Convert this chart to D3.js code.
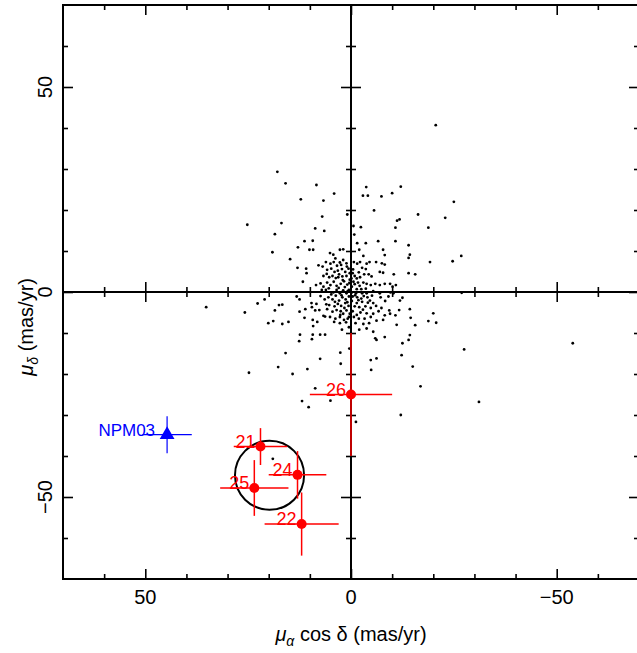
<!DOCTYPE html>
<html><head><meta charset="utf-8">
<script src="https://cdn.jsdelivr.net/npm/d3@7"></script>
<style>
html,body{margin:0;padding:0;background:#fff;}
text{font-family:"Liberation Sans",Arial,Helvetica,sans-serif;}
</style></head>
<body><svg id="chart" width="637" height="653"></svg>
<script>
// ---- data ----
const xDomain = [70, -70];
const yDomain = [-70, 70];
const majorTicks = [-50, 0, 50];
const minorTicks = [-60, -40, -30, -20, -10, 10, 20, 30, 40, 60];
const xLabel = ["μ", "α", " cos δ (mas/yr)"];
const yLabel = ["μ", "δ", " (mas/yr)"];

// field stars: [mu_alpha cos delta, mu_delta] (mas/yr)
const fieldStars = [
[11.3,12.4],[9.3,12.5],[10.1,10.3],[9.2,10.3],[5.1,9.5],[4.3,9.1],[2.7,10.3],[1.9,10.4],[14.8,8.0],[7.9,6.5],
[6.9,6.2],[6.1,7.3],[5.0,6.9],[4.2,7.3],[3.4,6.4],[2.7,7.2],[1.9,7.8],[1.1,7.0],[13.0,5.9],[10.9,5.7],
[10.8,4.6],[5.8,5.4],[4.8,5.7],[4.0,4.9],[3.2,5.2],[2.2,5.6],[1.4,4.9],[0.6,5.7],[11.7,2.5],[6.7,3.9],
[5.9,4.4],[5.3,3.6],[4.5,3.9],[3.7,3.4],[2.9,4.3],[2.1,3.8],[1.1,3.9],[0.3,4.6],[8.5,1.7],[7.4,2.1],
[6.7,1.3],[5.8,2.3],[5.0,1.7],[4.2,2.5],[3.5,1.5],[2.5,2.0],[1.7,2.6],[0.9,1.8],[0.3,3.0],[7.1,0.5],
[6.1,0.5],[4.3,-0.1],[3.5,0.5],[2.7,-0.3],[1.9,0.4],[1.1,-0.3],[0.5,0.5],[13.2,-1.1],[12.5,-1.8],[9.6,-2.7],
[8.4,-2.9],[6.4,-1.8],[5.5,-1.3],[4.5,-1.8],[3.7,-0.9],[2.9,-2.1],[2.1,-1.3],[1.3,-1.8],[0.5,-1.1],[5.3,-3.2],
[4.0,-3.5],[3.2,-2.9],[2.4,-3.4],[1.4,-2.7],[0.6,-3.4],[8.7,-4.5],[7.7,-4.4],[5.8,-4.2],[4.5,-4.8],[3.5,-4.4],
[2.5,-4.7],[1.9,-5.3],[1.1,-4.5],[0.3,-5.3],[12.5,-4.8],[6.7,-5.8],[6.3,-6.0],[5.1,-6.1],[3.8,-6.5],[2.7,-6.1],
[1.7,-6.8],[0.8,-6.5],[11.3,-6.3],[9.3,-6.8],[9.2,-8.3],[8.2,-7.3],[2.7,-7.6],[2.2,-9.2],[0.5,-8.6],[12.4,-10.4],
[9.3,-10.4],[7.5,-10.4],[6.3,-10.4],[9.5,-11.5],[0.5,-6.1],
[3.0,1.0],[1.5,1.2],[0.8,0.2],[2.3,-0.8],[3.9,-2.4],[1.6,-3.9],[4.8,-0.6],[2.0,2.9],[0.4,2.2],[3.1,3.6],
[1.0,6.2],[2.6,-5.6],[4.1,-7.3],[1.2,-7.4],[6.0,-3.0],[7.4,-1.0],[5.4,0.9],[0.9,-2.5],[2.4,6.6],[3.8,8.2],
[-1.5,11.9],[-3.6,11.9],[-6.6,12.4],[-14.0,11.4],[-2.0,10.3],[-3.0,8.8],[-7.8,10.3],[-8.2,9.0],[-14.3,9.1],[-14.0,8.3],
[-0.7,7.3],[-1.5,6.9],[-2.2,7.3],[-3.8,6.9],[-4.5,7.3],[-6.1,7.3],[-7.5,7.0],[-8.2,6.7],[-2.7,5.9],[-3.6,5.6],
[-7.0,4.9],[-7.8,4.7],[-0.4,4.6],[-0.9,3.9],[-0.1,3.3],[-1.4,3.3],[-2.2,3.6],[-3.2,4.3],[-4.3,4.3],[-5.0,3.8],
[-10.4,4.3],[-14.0,4.6],[-15.6,4.3],[-0.6,2.5],[-1.7,2.3],[-3.0,2.3],[-3.8,2.0],[-4.8,1.7],[-5.9,2.0],[-7.0,1.7],
[-8.2,2.0],[-9.5,2.0],[-10.1,1.3],[-10.9,1.7],[-0.2,1.3],[-1.4,0.7],[-2.5,0.7],[-3.6,0.8],[-0.2,-0.1],[-1.2,-0.3],
[-2.7,-0.3],[-3.8,-0.3],[-5.4,0.2],[-7.0,-0.3],[-9.6,-0.1],[-10.3,-0.3],[-0.4,-1.1],[-1.5,-1.3],[-2.5,-1.6],[-4.0,-1.3],
[-5.1,-0.9],[-7.2,-1.3],[-9.1,-1.1],[-12.5,-1.4],[-0.2,-2.2],[-1.4,-2.7],[-2.7,-2.4],[-4.1,-2.6],[-5.4,-2.7],[-8.3,-2.2],
[-11.9,-2.1],[-0.9,-3.5],[-2.0,-3.7],[-3.5,-3.5],[-4.8,-3.9],[-6.1,-3.4],[-7.4,-3.9],[-9.3,-4.5],[-11.7,-4.4],[-14.3,-4.2],
[-0.4,-4.7],[-2.3,-5.0],[-3.8,-5.2],[-5.4,-5.3],[-6.7,-4.7],[-8.2,-5.7],[-9.5,-5.3],[-0.7,-6.1],[-1.9,-6.5],[-3.3,-6.5],
[-4.8,-6.1],[-6.2,-7.0],[-10.8,-5.7],[-14.5,-6.3],[-1.1,-7.6],[-3.0,-7.8],[-4.4,-7.6],[-7.8,-6.8],[-2.0,-9.2],[-3.8,-8.9],
[-5.4,-9.7],[-11.1,-8.0],[-15.6,-8.1],[-14.3,-10.5],[-8.2,-11.0],[-5.9,-11.3],
[-0.9,1.9],[-2.1,1.5],[-1.0,-0.8],[-3.1,-1.0],[-1.8,-2.0],[-0.5,5.5],[-1.9,4.8],[-2.9,-4.3],[-1.4,-5.6],[-4.6,-2.1],
[17.9,29.3],[15.9,26.5],[8.4,26.1],[12.2,22.6],[4.1,24.0],[6.7,22.3],[-3.7,25.6],[-2.9,23.5],[-4.1,23.5],[-7.4,23.3],
[-10.0,24.1],[-12.1,25.7],[-25.0,22.0],[-16.3,18.9],[-22.9,18.1],[-18.8,15.7],[25.2,16.4],[16.9,16.8],[18.5,14.1],[7.0,18.4],
[8.7,15.5],[6.5,14.9],[0.9,18.9],[-5.6,19.9],[-11.2,17.4],[-11.8,17.7],[-10.8,15.7],[-0.6,16.1],[-2.4,15.8],[-0.8,14.0],
[-20.6,40.7],[12.9,10.9],[19.1,9.7],[-10.8,12.4],[-19.2,7.3],[-24.7,7.5],[-26.8,8.8],
[35.2,-3.7],[25.8,-5.0],[22.7,-2.8],[21.0,-1.8],[17.5,-3.2],[16.7,-3.1],[18.5,-4.5],[20.1,-7.6],[18.9,-7.1],[16.7,-7.8],
[15.2,-7.3],[11.1,-4.2],[9.5,-3.7],[12.6,-12.0],[15.9,-14.9],[17.7,-18.3],[24.8,-19.7],[14.2,-20.0],[10.6,-18.8],[7.5,-16.3],
[2.6,-14.8],[2.5,-17.5],[8.7,-23.5],[11.9,-26.6],[10.3,-28.1],[5.0,-26.5],[-1.2,-31.7],[19.0,-40.7],[0.4,-13.8],
[-4.8,-16.6],[-6.2,-16.2],[-4.9,-19.0],[-12.5,-12.5],[-14.0,-11.7],[-6.2,-11.7],[-12.3,-15.4],[-15.0,-18.2],[-16.9,-23.0],
[-27.5,-14.0],[-31.1,-26.8],[-12.1,-30.0],[-18.8,-7.1],[-20.7,-7.5],[-20.0,-5.2],[-26.9,-0.2],[-53.9,-12.5]
];

// cluster candidates (red)
const memberNames = ["21", "22", "24", "25", "26"];
const memberX     = [22.0, 12.0, 13.0, 23.5, 0.0];
const memberY     = [-37.7, -56.6, -44.6, -47.8, -25.0];
const memberXErr  = [6.5, 9.0, 7.0, 8.3, 10.0];
const memberYErr  = [4.5, 7.7, 5.8, 6.8, 15.0];

// reference object (blue)
const refName = "NPM03";
const refX = 44.7, refY = -34.8, refXErr = 6.0, refYErr = 4.5;

// selection circle
const circleX = 19.8, circleY = -44.7, circleR = 8.4;

// ---- drawing ----
const svg = d3.select("#chart");
const x = d3.scaleLinear().domain(xDomain).range([63, 639]);
const y = d3.scaleLinear().domain(yDomain).range([579, 5]);
const pxPerUnit = Math.abs(x(1) - x(0));

function tickSet(gen, transform, vals, size) {
  svg.append("g").attr("transform", transform)
    .call(gen.tickValues(vals).tickSize(size).tickFormat(""))
    .call(g => g.select(".domain").remove())
    .call(g => g.selectAll("line").attr("stroke", "#000").attr("stroke-width", 1.6));
}
// frame ticks (inward)
tickSet(d3.axisBottom(x), `translate(0,${y(-70)})`, minorTicks, -5);
tickSet(d3.axisBottom(x), `translate(0,${y(-70)})`, majorTicks, -10);
tickSet(d3.axisTop(x), `translate(0,${y(70)})`, minorTicks, -5);
tickSet(d3.axisTop(x), `translate(0,${y(70)})`, majorTicks, -10);
tickSet(d3.axisLeft(y), `translate(${x(70)},0)`, minorTicks, -5);
tickSet(d3.axisLeft(y), `translate(${x(70)},0)`, majorTicks, -10);
tickSet(d3.axisRight(y), `translate(${x(-70)},0)`, minorTicks, -5);
tickSet(d3.axisRight(y), `translate(${x(-70)},0)`, majorTicks, -10);

// zero axes with crossing ticks
tickSet(d3.axisBottom(x), `translate(0,${y(0) - 5})`, minorTicks, 10);
tickSet(d3.axisBottom(x), `translate(0,${y(0) - 10})`, [-50, 50], 20);
tickSet(d3.axisRight(y), `translate(${x(0) - 5},0)`, minorTicks, 10);
tickSet(d3.axisRight(y), `translate(${x(0) - 10},0)`, [-50, 50], 20);

svg.append("line").attr("x1", x(70)).attr("x2", x(-70)).attr("y1", y(0)).attr("y2", y(0))
  .attr("stroke", "#000").attr("stroke-width", 2);
svg.append("line").attr("x1", x(0)).attr("x2", x(0)).attr("y1", y(70)).attr("y2", y(-70))
  .attr("stroke", "#000").attr("stroke-width", 2);

// frame
svg.append("rect").attr("x", x(70)).attr("y", y(70))
  .attr("width", x(-70) - x(70)).attr("height", y(-70) - y(70))
  .attr("fill", "none").attr("stroke", "#000").attr("stroke-width", 2);

// tick labels
const fmt = d3.format("d");
svg.append("g").selectAll("text").data(majorTicks).join("text")
  .attr("x", d => x(d)).attr("y", y(-70) + 25)
  .attr("text-anchor", "middle").attr("font-size", 20).text(d => fmt(d));
svg.append("g").selectAll("text").data(majorTicks).join("text")
  .attr("transform", d => `translate(52,${y(d)}) rotate(-90)`)
  .attr("text-anchor", "middle").attr("font-size", 20).text(d => fmt(d));

// axis titles
const xt = svg.append("text").attr("x", x(0)).attr("y", 641)
  .attr("text-anchor", "middle").attr("font-size", 20);
xt.append("tspan").attr("font-style", "italic").text(xLabel[0]);
xt.append("tspan").attr("font-size", 14).attr("dy", 5).attr("font-style", "italic").text(xLabel[1]);
xt.append("tspan").attr("dy", -5).text(xLabel[2]);

const yt = svg.append("text").attr("transform", `translate(33,${y(-8.5)}) rotate(-90)`)
  .attr("text-anchor", "middle").attr("font-size", 20);
yt.append("tspan").attr("font-style", "italic").text(yLabel[0]);
yt.append("tspan").attr("font-size", 14).attr("dy", 5).attr("font-style", "italic").text(yLabel[1]);
yt.append("tspan").attr("dy", -5).text(yLabel[2]);

// field stars
svg.append("g").selectAll("circle").data(fieldStars).join("circle")
  .attr("cx", d => x(d[0])).attr("cy", d => y(d[1])).attr("r", 1.4).attr("fill", "#000");

// selection circle
svg.append("circle").attr("cx", x(circleX)).attr("cy", y(circleY))
  .attr("r", circleR * pxPerUnit).attr("fill", "none").attr("stroke", "#000").attr("stroke-width", 2);

// members
const members = memberNames.map((n, i) => ({n, x: memberX[i], y: memberY[i], ex: memberXErr[i], ey: memberYErr[i]}));
const red = "#ff0000";
const mg = svg.append("g");
mg.selectAll("line.h").data(members).join("line").attr("class", "h")
  .attr("x1", d => x(d.x - d.ex)).attr("x2", d => x(d.x + d.ex))
  .attr("y1", d => y(d.y)).attr("y2", d => y(d.y)).attr("stroke", red).attr("stroke-width", 1.5);
mg.selectAll("line.v").data(members).join("line").attr("class", "v")
  .attr("x1", d => x(d.x)).attr("x2", d => x(d.x))
  .attr("y1", d => y(d.y - d.ey)).attr("y2", d => y(d.y + d.ey)).attr("stroke", red).attr("stroke-width", 1.5);
mg.selectAll("circle").data(members).join("circle")
  .attr("cx", d => x(d.x)).attr("cy", d => y(d.y)).attr("r", 5).attr("fill", red);
mg.selectAll("text").data(members).join("text")
  .attr("x", d => x(d.x) - 5).attr("y", d => y(d.y) + 1)
  .attr("text-anchor", "end").attr("font-size", 18).attr("fill", red).text(d => d.n);

// reference object
const blue = "#0000ff";
svg.append("line").attr("x1", x(refX - refXErr)).attr("x2", x(refX + refXErr))
  .attr("y1", y(refY)).attr("y2", y(refY)).attr("stroke", blue).attr("stroke-width", 1.2);
svg.append("line").attr("x1", x(refX)).attr("x2", x(refX))
  .attr("y1", y(refY - refYErr)).attr("y2", y(refY + refYErr)).attr("stroke", blue).attr("stroke-width", 1.2);
svg.append("path").attr("d", d3.symbol(d3.symbolTriangle).size(95)())
  .attr("transform", `translate(${x(refX)},${y(refY)})`).attr("fill", blue);
svg.append("text").attr("x", x(refX) - 12).attr("y", y(refY) + 1)
  .attr("text-anchor", "end").attr("font-size", 17).attr("fill", blue).text(refName);
</script></body></html>
